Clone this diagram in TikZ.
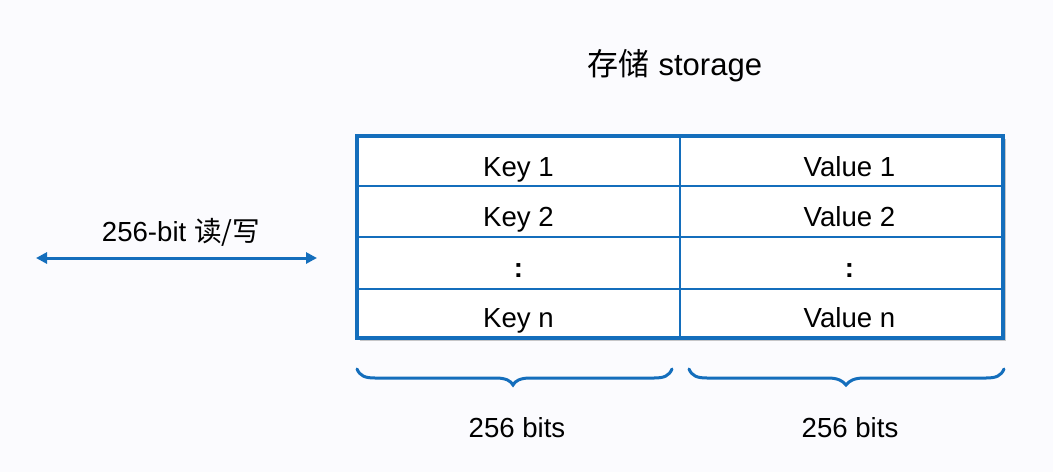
\documentclass[tikz,border=0pt]{standalone}
\usepackage{fontspec}
\setmainfont{Liberation Sans}
\newfontfamily\cjk{Noto Sans CJK SC}
\usetikzlibrary{arrows.meta,shadows,calc}
\definecolor{tblue}{RGB}{20,110,188}
\definecolor{bgc}{RGB}{251,251,254}
\begin{document}
\begin{tikzpicture}[x=1pt,y=-1pt,
  txt/.style={anchor=base,inner sep=0pt,font=\fontsize{27.6}{31}\selectfont},
  ttl/.style={anchor=base,inner sep=0pt,font=\fontsize{31}{35}\selectfont},
  grid/.style={draw=tblue,line width=2.6pt},
  brace/.style={draw=tblue,line width=3pt,line cap=round},
  dbl/.style={draw=tblue,line width=3pt,{Triangle[length=11pt,width=11pt]}-{Triangle[length=11pt,width=11pt]}}]
\fill[bgc] (0,0) rectangle (1053,472);
\useasboundingbox (0,0) rectangle (1053,472);

% title
\node[ttl] (title) at (675,75) {{\cjk 存储} storage};

% table
\node[draw=tblue,line width=3.6pt,fill=white,minimum width=646pt,minimum height=202pt,inner sep=0pt,
  drop shadow={shadow xshift=2.5pt,shadow yshift=-2.5pt,opacity=0.35,fill=black!60}] (tbl) at (680,237) {};
\draw[grid] (tbl.north) -- (tbl.south);
\foreach \f in {0.252,0.5,0.752}{
  \draw[grid] ($(tbl.north west)!\f!(tbl.south west)$) -- ($(tbl.north east)!\f!(tbl.south east)$);
}
\node[txt] (k1) at (518.5,176.5) {Key 1};
\node[txt] (k2) at (518.5,226.5) {Key 2};
\node[txt] (k3) at (518.5,277) {\textbf{:}};
\node[txt] (k4) at (518.5,327.5) {Key n};
\node[txt] (v1) at (849.5,176.5) {Value 1};
\node[txt] (v2) at (849.5,226.5) {Value 2};
\node[txt] (v3) at (849.5,277) {\textbf{:}};
\node[txt] (v4) at (849.5,327.5) {Value n};

% read/write arrow
\coordinate (aL) at (36,258);
\coordinate (aR) at (317,258);
\draw[dbl] (aL) -- (aR);
\node[txt] (rw) at (181,241.5) {256-bit {\cjk 读/写}};

% braces
\draw[brace] (357,369) .. controls (360,376) and (365,378) .. (375,378) -- (496,378)
  .. controls (506,378) and (511,381) .. (513,385) .. controls (515,381) and (520,378) .. (530,378)
  -- (654,378) .. controls (664,378) and (669,376) .. (672,369);
\begin{scope}[xshift=332pt]
\draw[brace] (357,369) .. controls (360,376) and (365,378) .. (375,378) -- (496,378)
  .. controls (506,378) and (511,381) .. (514,385) .. controls (517,381) and (522,378) .. (532,378)
  -- (654,378) .. controls (664,378) and (669,376) .. (672,369);
\end{scope}
\node[txt] (b1) at (517,437) {256 bits};
\node[txt] (b2) at (850,437) {256 bits};
\end{tikzpicture}
\end{document}
